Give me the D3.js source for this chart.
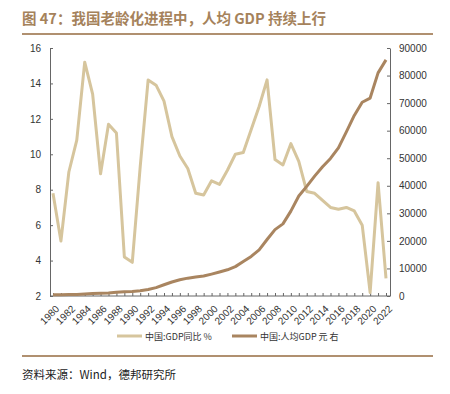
<!DOCTYPE html>
<html><head><meta charset="utf-8">
<script src="https://cdn.jsdelivr.net/npm/d3@7"></script>
<style>body{margin:0;background:#fff;}svg{display:block;}</style>
</head><body>
<svg id="c" width="450" height="394"></svg>
<script>
const years = d3.range(1980, 2023);
const gdpGrowth = [7.8,5.1,9.0,10.8,15.2,13.4,8.9,11.7,11.2,4.2,3.9,9.3,14.2,13.9,13.0,11.0,9.9,9.2,7.8,7.7,8.5,8.3,9.1,10.0,10.1,11.4,12.7,14.2,9.7,9.4,10.6,9.6,7.9,7.8,7.4,7.0,6.9,7.0,6.8,6.0,2.2,8.4,3.0];
const gdpPerCapita = [468,497,533,588,702,866,973,1123,1378,1536,1663,1912,2334,3027,4081,5091,5898,6481,6860,7229,7942,8717,9506,10666,12487,14368,16738,20494,24100,26180,30808,36277,39771,43497,46912,49922,53783,59592,65534,70328,71828,80976,85698];
const leftTicks = [2,4,6,8,10,12,14,16];
const rightTicks = [0,10000,20000,30000,40000,50000,60000,70000,80000,90000];
const xTickLabels = d3.range(1980, 2023, 2);
const seriesNames = ["中国:GDP同比 %", "中国:人均GDP 元 右"];
const colors = ["#d6c59d", "#a98560"];

const svg = d3.select("#c");
const L = 50, R = 390, T = 48, B = 296;
const x = d3.scalePoint().domain(years).range([53, 386]);
const yL = d3.scaleLinear().domain([2,16]).range([B, T]);
const yR = d3.scaleLinear().domain([0,90000]).range([B, T]);

// title
svg.append("text").attr("x", 22).attr("y", 24).text("图 47：我国老龄化进程中，人均 GDP 持续上行")
  .attr("font-family","Noto Sans CJK SC").attr("font-weight","bold").attr("font-size",14.5).attr("fill","#a5825b");
svg.append("line").attr("x1",22).attr("x2",433).attr("y1",34).attr("y2",34).attr("stroke","#b09070").attr("stroke-width",2);
svg.append("line").attr("x1",22).attr("x2",433).attr("y1",356).attr("y2",356).attr("stroke","#b09070").attr("stroke-width",2);
svg.append("text").attr("x", 22).attr("y", 379).text("资料来源：Wind，德邦研究所")
  .attr("font-family","Noto Sans CJK SC").attr("font-size",11.5).attr("fill","#222");

const font = "Liberation Sans, Arial, sans-serif";
// left axis
const gl = svg.append("g").attr("transform",`translate(${L},0)`)
  .call(d3.axisLeft(yL).tickValues(leftTicks).tickSizeInner(-3).tickSizeOuter(0).tickPadding(9));
// right axis
const gr = svg.append("g").attr("transform",`translate(${R},0)`)
  .call(d3.axisRight(yR).tickValues(rightTicks).tickFormat(d3.format("d")).tickSizeInner(-3).tickSizeOuter(0).tickPadding(9));
// bottom axis
const gb = svg.append("g").attr("transform",`translate(0,${B})`)
  .call(d3.axisBottom(x).tickValues(years).tickSizeInner(-3).tickSizeOuter(0).tickFormat(d => xTickLabels.includes(d) ? d : ""));
gb.select(".domain").attr("d", `M${L},0H${R}`);
gb.selectAll(".tick text").attr("text-anchor","end").attr("y",0).attr("dy","0.35em")
  .attr("transform","translate(4,11) rotate(-45)");
[gl,gr,gb].forEach(g => {
  g.selectAll(".domain").attr("stroke","#666");
  g.selectAll(".tick line").attr("stroke","#666");
  g.selectAll(".tick text").attr("font-family",font).attr("font-size",10).attr("fill","#333");
});

// lines
const lineL = d3.line().x((d,i)=>x(years[i])).y(d=>yL(d));
const lineR = d3.line().x((d,i)=>x(years[i])).y(d=>yR(d));
svg.append("path").datum(gdpGrowth).attr("d",lineL).attr("fill","none").attr("stroke",colors[0]).attr("stroke-width",3).attr("stroke-linejoin","round");
svg.append("path").datum(gdpPerCapita).attr("d",lineR).attr("fill","none").attr("stroke",colors[1]).attr("stroke-width",3).attr("stroke-linejoin","round");

// legend
const lg = [{x:117},{x:232}];
seriesNames.forEach((n,i)=>{
  svg.append("line").attr("x1",lg[i].x).attr("x2",lg[i].x+25).attr("y1",336).attr("y2",336).attr("stroke",colors[i]).attr("stroke-width",3);
  svg.append("text").attr("x",lg[i].x+28).attr("y",340).text(n).attr("font-family","Noto Sans CJK SC").attr("font-size",9).attr("fill","#333");
});
</script>
</body></html>
